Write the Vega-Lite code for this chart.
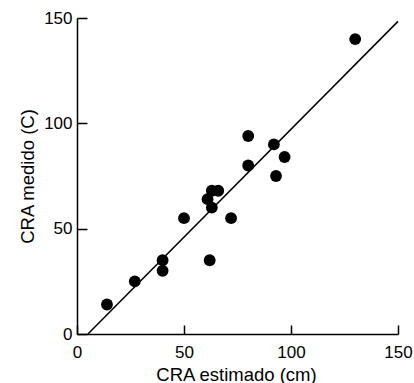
{
  "$schema": "https://vega.github.io/schema/vega-lite/v6.json",
  "width": 321,
  "height": 316,
  "autosize": {"type": "none"},
  "padding": {"left": 77, "top": 18, "right": 16, "bottom": 49},
  "background": "white",
  "config": {
    "view": {"stroke": null},
    "font": "Liberation Sans",
    "axis": {
      "grid": false,
      "domainColor": "black",
      "domainWidth": 1.5,
      "tickColor": "black",
      "tickWidth": 1.5,
      "labelColor": "black",
      "labelFontSize": 17,
      "labelFlush": false,
      "labelOverlap": false,
      "titleColor": "black",
      "titleFontSize": 18.5,
      "titleFontWeight": "normal",
      "titleBaseline": "alphabetic"
    }
  },
  "layer": [
    {
      "data": {
        "values": [
          {"estimado": 14, "medido": 14},
          {"estimado": 27, "medido": 25},
          {"estimado": 40, "medido": 35},
          {"estimado": 40, "medido": 30},
          {"estimado": 50, "medido": 55},
          {"estimado": 62, "medido": 35},
          {"estimado": 61, "medido": 64},
          {"estimado": 63, "medido": 60},
          {"estimado": 63, "medido": 68},
          {"estimado": 66, "medido": 68},
          {"estimado": 72, "medido": 55},
          {"estimado": 80, "medido": 94},
          {"estimado": 80, "medido": 80},
          {"estimado": 92, "medido": 90},
          {"estimado": 97, "medido": 84},
          {"estimado": 93, "medido": 75},
          {"estimado": 130, "medido": 140}
        ]
      },
      "mark": {"type": "point", "filled": true, "color": "black", "opacity": 1, "size": 140},
      "encoding": {
        "x": {
          "field": "estimado", "type": "quantitative",
          "scale": {"domain": [0, 150], "nice": false},
          "axis": {"values": [0, 50, 100, 150], "tickSize": -9, "labelPadding": 19, "title": "CRA estimado (cm)", "titleX": 159, "titleY": 46, "titleAnchor": "middle"}
        },
        "y": {
          "field": "medido", "type": "quantitative",
          "scale": {"domain": [0, 150], "nice": false},
          "axis": {"values": [0, 50, 100, 150], "tickSize": -10, "labelPadding": 15, "title": "CRA medido (C)", "titleX": -44, "titleY": 158, "titleAngle": 270, "titleAnchor": "middle"}
        }
      }
    },
    {
      "data": {"values": [{"estimado": 5.1, "medido": 0}, {"estimado": 150, "medido": 148.4}]},
      "mark": {"type": "line", "color": "black", "strokeWidth": 1.5},
      "encoding": {
        "x": {"field": "estimado", "type": "quantitative"},
        "y": {"field": "medido", "type": "quantitative"}
      }
    }
  ]
}
